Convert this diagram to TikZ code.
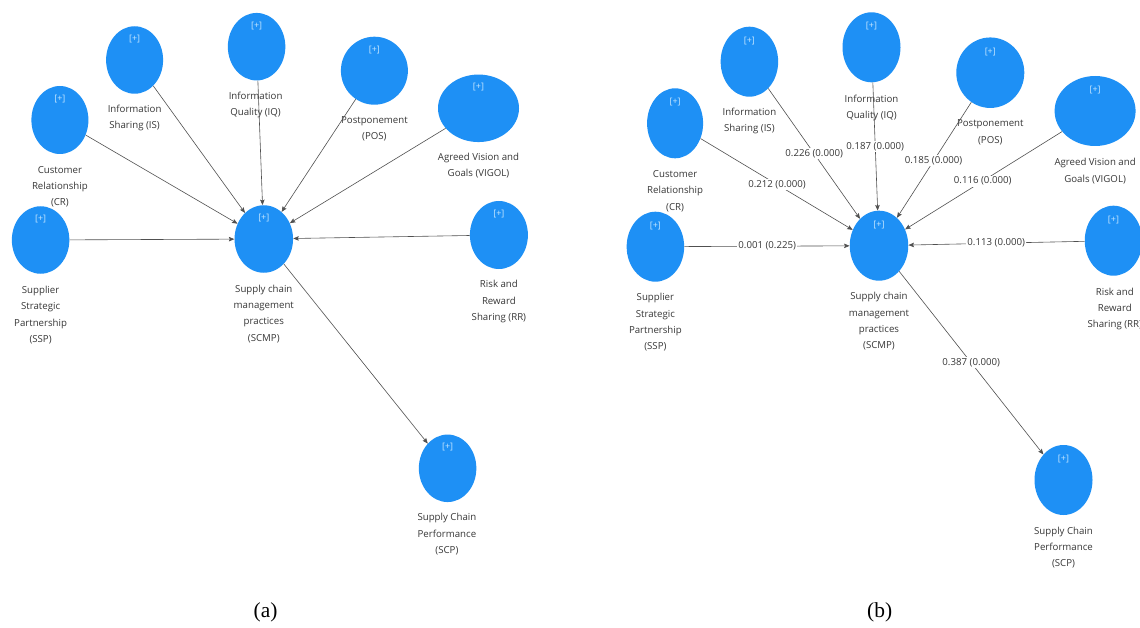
\documentclass[tikz,border=0pt]{standalone}
\usepackage{fontspec}
\usetikzlibrary{shapes.geometric,arrows.meta}
\newfontfamily\labfont{Open Sans}
\newfontfamily\capfont{Liberation Serif}
\definecolor{lvblue}{RGB}{30,144,245}
\definecolor{lvtext}{RGB}{55,55,55}
\definecolor{lvline}{RGB}{80,80,80}
\definecolor{lvplus}{RGB}{200,232,255}
\tikzset{
  lv/.style={ellipse, fill=lvblue, draw=none, inner sep=0pt},
  plusmark/.style={font=\labfont\fontsize{9}{10}\selectfont, text=lvplus, yshift=21bp},
  lab/.style={font=\labfont\fontsize{9.7}{16.4}\selectfont, text=lvtext, align=center, inner sep=0pt},
  elab/.style={font=\labfont\fontsize{9.7}{11}\selectfont, text=lvtext, fill=white, inner sep=1.2pt},
  arr/.style={draw=lvline, line width=0.6bp, -{Stealth[length=5.5bp,width=4.5bp,inset=1bp]}},
  capt/.style={font=\capfont\fontsize{21.5}{24}\selectfont, text=black}
}
\begin{document}
\begin{tikzpicture}[x=1bp,y=-1bp]
\useasboundingbox[fill=white] (0,0) rectangle (1140,628);

% ---------------- panel (a) ----------------
\node[lv, minimum width=57bp, minimum height=67.5bp, label={[plusmark]center:[+]}] (aIS) at (134.6,60) {};
\node[lv, minimum width=57.5bp, minimum height=67.5bp, label={[plusmark]center:[+]}] (aIQ) at (256.6,46.7) {};
\node[lv, minimum width=67bp, minimum height=68bp, label={[plusmark]center:[+]}] (aPOS) at (374.4,70.7) {};
\node[lv, minimum width=81bp, minimum height=67.5bp, label={[plusmark]center:[+]}] (aVIG) at (478.5,108.3) {};
\node[lv, minimum width=57bp, minimum height=68bp, label={[plusmark]center:[+]}] (aCR) at (59.9,120) {};
\node[lv, minimum width=57.5bp, minimum height=67.5bp, label={[plusmark]center:[+]}] (aSSP) at (40.6,240) {};
\node[lv, minimum width=58.5bp, minimum height=67.5bp, label={[plusmark]center:[+]}] (aSCMP) at (263.8,239) {};
\node[lv, minimum width=58bp, minimum height=68bp, label={[plusmark]center:[+]}] (aRR) at (498.9,235) {};
\node[lv, minimum width=57.5bp, minimum height=67.5bp, label={[plusmark]center:[+]}] (aSCP) at (447.6,468.3) {};

\node[lab] (aISl) at (134.6,118) {Information\\Sharing (IS)};
\node[lab] (aIQl) at (255.6,105) {Information\\Quality (IQ)};
\node[lab] (aPOSl) at (374.4,128.7) {Postponement\\(POS)};
\node[lab] (aVIGl) at (478.5,165.8) {Agreed Vision and\\Goals (VIGOL)};
\node[lab] (aCRl) at (59.9,186.7) {Customer\\Relationship\\(CR)};
\node[lab] (aSSPl) at (40.6,315) {Supplier\\Strategic\\Partnership\\(SSP)};
\node[lab] (aSCMPl) at (263.8,313.7) {Supply chain\\management\\practices\\(SCMP)};
\node[lab] (aRRl) at (498.9,301.7) {Risk and\\Reward\\Sharing (RR)};
\node[lab] (aSCPl) at (446.9,534.3) {Supply Chain\\Performance\\(SCP)};

\draw[arr] (aIS) -- (aSCMP);
\draw[arr] (aIQ) -- (aSCMP);
\draw[arr] (aPOS) -- (aSCMP);
\draw[arr] (aVIG) -- (aSCMP);
\draw[arr] (aCR) -- (aSCMP);
\draw[arr] (aSSP) -- (aSCMP);
\draw[arr] (aRR) -- (aSCMP);
\draw[arr] (aSCMP) -- (aSCP);

\node[capt] (capA) at (265.6,612) {(a)};

% ---------------- panel (b) ----------------
\node[lv, minimum width=56bp, minimum height=70bp, label={[plusmark]center:[+]}] (bCR) at (675.1,123.3) {};
\node[lv, minimum width=57.5bp, minimum height=70bp, label={[plusmark]center:[+]}] (bIS) at (749.4,61.7) {};
\node[lv, minimum width=58bp, minimum height=70bp, label={[plusmark]center:[+]}] (bIQ) at (871.5,47.3) {};
\node[lv, minimum width=68bp, minimum height=70.5bp, label={[plusmark]center:[+]}] (bPOS) at (990.3,72.7) {};
\node[lv, minimum width=81bp, minimum height=70bp, label={[plusmark]center:[+]}] (bVIG) at (1095.1,111) {};
\node[lv, minimum width=57.5bp, minimum height=70bp, label={[plusmark]center:[+]}] (bSSP) at (655.4,246.7) {};
\node[lv, minimum width=58.5bp, minimum height=70bp, label={[plusmark]center:[+]}] (bSCMP) at (879,245.7) {};
\node[lv, minimum width=57.5bp, minimum height=70bp, label={[plusmark]center:[+]}] (bRR) at (1113.5,240.7) {};
\node[lv, minimum width=58bp, minimum height=70bp, label={[plusmark]center:[+]}] (bSCP) at (1063.5,480) {};

\node[lab] (bISl) at (749.4,121) {Information\\Sharing (IS)};
\node[lab] (bIQl) at (871.5,108) {Information\\Quality (IQ)};
\node[lab] (bPOSl) at (990.3,132.3) {Postponement\\(POS)};
\node[lab] (bVIGl) at (1095.1,171) {Agreed Vision and\\Goals (VIGOL)};
\node[lab] (bCRl) at (675.1,191) {Customer\\Relationship\\(CR)};
\node[lab] (bSSPl) at (655.4,322.5) {Supplier\\Strategic\\Partnership\\(SSP)};
\node[lab] (bSCMPl) at (879,321.5) {Supply chain\\management\\practices\\(SCMP)};
\node[lab] (bRRl) at (1114.8,309) {Risk and\\Reward\\Sharing (RR)};
\node[lab] (bSCPl) at (1063.5,547.7) {Supply Chain\\Performance\\(SCP)};

\draw[arr] (bIS) -- (bSCMP);
\draw[arr] (bIQ) -- (bSCMP);
\draw[arr] (bPOS) -- (bSCMP);
\draw[arr] (bVIG) -- (bSCMP);
\draw[arr] (bCR) -- (bSCMP);
\draw[arr] (bSSP) -- (bSCMP);
\draw[arr] (bRR) -- (bSCMP);
\draw[arr] (bSCMP) -- (bSCP);

\path (bIS.center) -- node[elab] (eIS) {0.226 (0.000)} (bSCMP.center);
\path (bIQ.center) -- node[elab] (eIQ) {0.187 (0.000)} (bSCMP.center);
\path (bPOS.center) -- node[elab, pos=0.51] (ePOS) {0.185 (0.000)} (bSCMP.center);
\path (bCR.center) -- node[elab] (eCR) {0.212 (0.000)} (bSCMP.center);
\path (bVIG.center) -- node[elab, pos=0.52] (eVIG) {0.116 (0.000)} (bSCMP.center);
\path (bSSP.center) -- node[elab] (eSSP) {0.001 (0.225)} (bSCMP.center);
\path (bRR.center) -- node[elab] (eRR) {0.113 (0.000)} (bSCMP.center);
\path (bSCMP.center) -- node[elab] (eSCP) {0.387 (0.000)} (bSCP.center);

\node[capt] (capB) at (879.7,612) {(b)};
\end{tikzpicture}
\end{document}
